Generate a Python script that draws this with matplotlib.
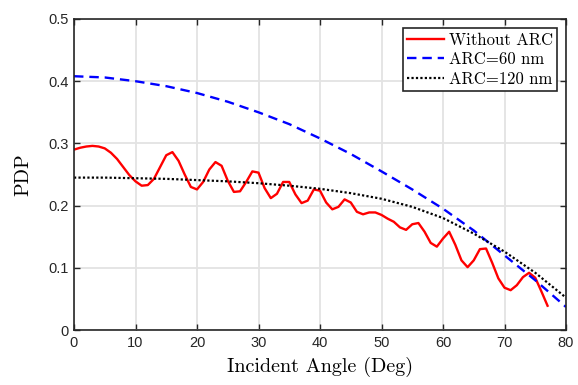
import matplotlib
matplotlib.use("Agg")
import matplotlib.pyplot as plt

# red: without ARC, read at 1-degree steps
angle_red = list(range(0, 78))
pdp_red = [0.290, 0.293, 0.295, 0.296, 0.295, 0.292, 0.285, 0.275, 0.262, 0.249,
           0.239, 0.232, 0.233, 0.243, 0.262, 0.281, 0.286, 0.272, 0.250, 0.230,
           0.226, 0.238, 0.258, 0.270, 0.264, 0.240, 0.222, 0.223, 0.238, 0.255,
           0.253, 0.228, 0.212, 0.219, 0.238, 0.238, 0.218, 0.204, 0.208, 0.226,
           0.224, 0.205, 0.194, 0.198, 0.210, 0.205, 0.190, 0.186, 0.189, 0.189,
           0.185, 0.179, 0.174, 0.165, 0.161, 0.170, 0.172, 0.158, 0.140, 0.134,
           0.147, 0.158, 0.137, 0.112, 0.101, 0.112, 0.130, 0.131, 0.108, 0.083,
           0.068, 0.064, 0.072, 0.085, 0.092, 0.084, 0.062, 0.039]

angle_arc = list(range(0, 81, 5))
pdp_arc60 = [0.408, 0.406, 0.400, 0.392, 0.381, 0.367, 0.350, 0.331, 0.308,
             0.283, 0.255, 0.226, 0.195, 0.160, 0.120, 0.080, 0.037]
pdp_arc120 = [0.245, 0.245, 0.244, 0.243, 0.241, 0.239, 0.236, 0.232, 0.227,
              0.220, 0.211, 0.198, 0.180, 0.155, 0.126, 0.092, 0.052]

serif = "cmr10"
plt.rcParams["font.family"] = ["Liberation Sans", "DejaVu Sans"]

fig = plt.figure(figsize=(5.78, 3.85), dpi=100)
ax = fig.add_axes([74 / 578, 1 - 330 / 385, 492 / 578, 311 / 385])

ax.plot(angle_red, pdp_red, color="#ff0000", lw=1.7, label="Without ARC")
ax.plot(angle_arc, pdp_arc60, color="#0000ff", lw=1.7, ls=(0, (4, 2.5)), label="ARC=60 nm")
ax.plot(angle_arc, pdp_arc120, color="black", lw=1.6, ls=(0, (1, 1)), label="ARC=120 nm")

ax.set_xlim(0, 80)
ax.set_ylim(0, 0.5)
ax.set_xticks(range(0, 81, 10))
ax.set_yticks([0, 0.1, 0.2, 0.3, 0.4, 0.5])
ax.set_yticklabels(["0", "0.1", "0.2", "0.3", "0.4", "0.5"])
ax.grid(True, color="#e3e3e3", lw=1.3)
ax.set_axisbelow(True)
ax.tick_params(direction="in", top=True, right=True, length=4, width=1,
               colors="#262626", labelsize=10.5, labelcolor="#262626", pad=4)
for s in ax.spines.values():
    s.set_color("#262626")
    s.set_linewidth(1.2)

ax.set_xlabel("Incident Angle (Deg)", fontfamily=serif, fontsize=14.5, labelpad=5)
ax.set_ylabel("PDP", fontfamily=serif, fontsize=14.5, labelpad=11)

leg = ax.legend(loc="upper right", prop={"family": serif, "size": 12},
                fancybox=False, framealpha=1, edgecolor="#262626",
                handlelength=2.2, handletextpad=0.3, borderpad=0.25,
                labelspacing=0.25, borderaxespad=0.55)
leg.get_frame().set_linewidth(1.2)

fig.savefig("out.png", dpi=100)
